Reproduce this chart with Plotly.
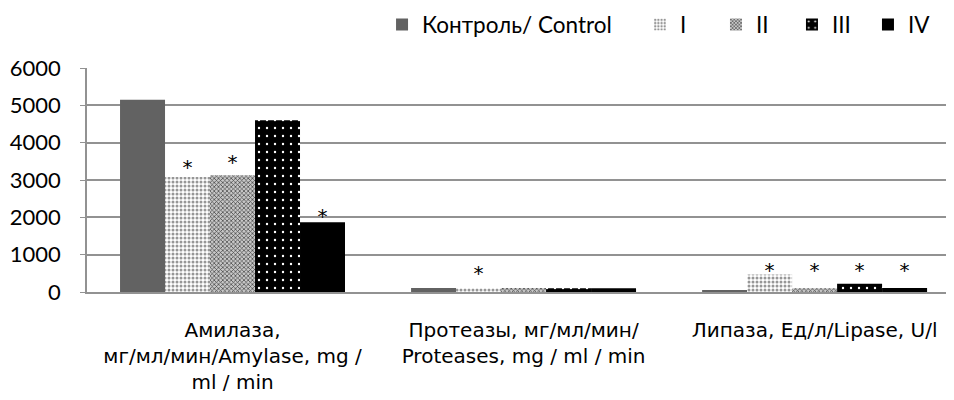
import plotly.graph_objects as go

categories = [
    "Амилаза,<br>мг/мл/мин/Amylase, mg /<br>ml / min",
    "Протеазы, мг/мл/мин/<br>Proteases, mg / ml / min",
    "Липаза, Ед/л/Lipase, U/l",
]
series_names = ["Контроль/ Control", "I", "II", "III", "IV"]
control = [5150, 110, 45]
group_i = [3080, 100, 470]
group_ii = [3130, 105, 100]
group_iii = [4600, 100, 220]
group_iv = [1870, 100, 105]
values = [control, group_i, group_ii, group_iii, group_iv]

# y positions of significance asterisks (None = no asterisk)
star_control = [None, None, None]
star_i = [3300, 460, 540]
star_ii = [3440, None, 540]
star_iii = [None, None, 540]
star_iv = [1980, None, 540]
stars = [star_control, star_i, star_ii, star_iii, star_iv]

y_ticks = [0, 1000, 2000, 3000, 4000, 5000, 6000]

FONT = "Lato"
GRID = "#929292"

patterns = [
    dict(marker=dict(color="#626262")),
    dict(marker=dict(color="white", pattern=dict(shape=".", size=4, solidity=0.45,
                                                 fgcolor="#969696", bgcolor="white", fillmode="replace"))),
    dict(marker=dict(color="#8a8a8a", pattern=dict(shape="x", size=3, solidity=0.4,
                                                   fgcolor="#3c3c3c", bgcolor="#c8c8c8", fillmode="replace"))),
    dict(marker=dict(color="black", pattern=dict(shape=".", size=8, solidity=0.07,
                                                 fgcolor="white", bgcolor="black", fillmode="replace"))),
    dict(marker=dict(color="black")),
]
legend_ids = ["legend", "legend2", "legend2", "legend2", "legend2"]

fig = go.Figure()
for i, (name, vals) in enumerate(zip(series_names, values)):
    fig.add_trace(go.Bar(x=categories, y=vals, name=name, offsetgroup=str(i),
                         legend=legend_ids[i], marker_line_width=0, **patterns[i]))
for i, st in enumerate(stars):
    fig.add_trace(go.Scatter(x=categories, y=st, mode="text", text=["*"] * 3,
                             textfont=dict(family="DejaVu Sans", size=20, color="black"),
                             offsetgroup=str(i), showlegend=False, hoverinfo="skip",
                             cliponaxis=False))

fig.update_layout(
    width=946, height=392,
    margin=dict(l=79, r=0, t=60, b=108, autoexpand=False),
    barmode="group", bargap=0.227, bargroupgap=0,
    scattermode="group", scattergap=0.227,
    plot_bgcolor="white", paper_bgcolor="white",
    font=dict(family=FONT, size=18, color="black"),
    legend=dict(orientation="h", x=0.3403, xanchor="left", y=1.192, yanchor="middle",
                font=dict(size=22.5), itemwidth=30),
    legend2=dict(orientation="h", x=0.6378, xanchor="left", y=1.192, yanchor="middle",
                 font=dict(size=22.5), itemwidth=30, entrywidth=31, entrywidthmode="pixels"),
    showlegend=True,
)
fig.update_xaxes(range=[-0.5, 2.479], showline=True, linecolor=GRID, linewidth=1.6,
                 ticks="", tickfont=dict(family="DejaVu Sans", size=20), ticklabelstandoff=19)
fig.update_yaxes(range=[0, 6000], tickvals=y_ticks, showgrid=True, gridcolor=GRID, gridwidth=1.5,
                 showline=True, linecolor=GRID, linewidth=1.5, ticks="outside", ticklen=5,
                 tickcolor=GRID, tickfont=dict(size=22), ticklabelstandoff=15, zeroline=False)

fig.write_html("out.html")
